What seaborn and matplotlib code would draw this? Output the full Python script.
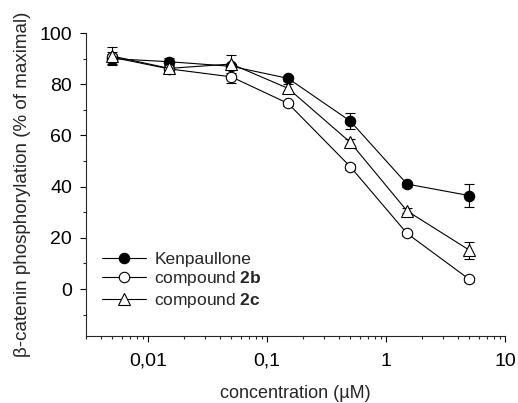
import matplotlib
matplotlib.use("Agg")
import matplotlib.pyplot as plt
import matplotlib.ticker as mticker
import seaborn as sns
import pandas as pd
import numpy as np

conc = [0.005, 0.015, 0.05, 0.15, 0.5, 1.5, 5]
kenpaullone = [90, 88.8, 87, 82.3, 65.6, 41, 36.5]
kenpaullone_err = [2, 1.5, 1, 1, 3, 1, 4.4]
cmp2b = [90.5, 86, 82.9, 72.5, 47.8, 21.7, 3.8]
cmp2b_err = [2, 1.5, 2.6, 1, 1.2, 0.8, 1]
cmp2c = [91, 86.2, 87.9, 78.4, 57.3, 30.5, 15.2]
cmp2c_err = [3.4, 2, 3.5, 1.5, 1.5, 1, 3.3]

labels = ["Kenpaullone", "compound $\\mathbf{2b}$", "compound $\\mathbf{2c}$"]
xtick_vals = [0.01, 0.1, 1, 10]
xtick_labels = ["0,01", "0,1", "1", "10"]
ytick_vals = [0, 20, 40, 60, 80, 100]

sns.set_style("ticks")
plt.rcParams['font.family'] = ['Liberation Sans', 'DejaVu Sans']
plt.rcParams['mathtext.fontset'] = 'custom'
plt.rcParams['mathtext.rm'] = 'Liberation Sans'
plt.rcParams['mathtext.bf'] = 'Liberation Sans:bold'

fig = plt.figure(figsize=(5.18, 4.03), dpi=100)
ax = fig.add_axes([0.166, 0.166, 0.809, 0.752])

series = [
    (kenpaullone, kenpaullone_err, 'o', 'black'),
    (cmp2b, cmp2b_err, 'o', 'white'),
    (cmp2c, cmp2c_err, '^', 'white'),
]
for (vals, errs, mk, fc), lab in zip(series, labels):
    df = pd.DataFrame({"conc": conc, "val": vals})
    ax.errorbar(conc, vals, yerr=errs, fmt='none', ecolor='black',
                elinewidth=0.8, capsize=3.5, capthick=0.8, zorder=2)
    sns.lineplot(data=df, x="conc", y="val", ax=ax, color='black',
                 linewidth=0.8, marker=mk, markersize=7.5 if mk == 'o' else 8,
                 markerfacecolor=fc, markeredgecolor='black',
                 markeredgewidth=0.8, label=lab, zorder=3)

ax.set_xscale('log')
ax.set_xlim(0.003, 10)
ax.set_ylim(-18.4, 100)
ax.set_xticks(xtick_vals)
ax.set_xticklabels(xtick_labels)
ax.xaxis.set_minor_locator(mticker.LogLocator(base=10, subs=np.arange(2, 10)))
ax.xaxis.set_minor_formatter(mticker.NullFormatter())
ax.set_yticks(ytick_vals)
ax.yaxis.set_minor_locator(mticker.MultipleLocator(10))

for s in ['top', 'right']:
    ax.spines[s].set_visible(False)
for s in ['left', 'bottom']:
    ax.spines[s].set_linewidth(0.8)
ax.tick_params(axis='both', which='major', direction='out', length=4, width=0.8,
               labelsize=14, colors='black')
ax.tick_params(axis='both', which='minor', direction='out', length=2.5, width=0.8)
ax.tick_params(axis='x', which='major', pad=8)
ax.tick_params(axis='y', which='major', pad=6)

ax.set_xlabel("concentration (\u00b5M)", fontsize=13, labelpad=11)
ax.set_ylabel("\u03b2-catenin phosphorylation (% of maximal)", fontsize=13.5, labelpad=6)

leg = ax.legend(loc='lower left', bbox_to_anchor=(0.022, 0.063), frameon=False,
                fontsize=12.5, handlelength=2.5, handletextpad=0.5,
                labelspacing=0.15, borderaxespad=0)

fig.savefig("out.png", dpi=100)
